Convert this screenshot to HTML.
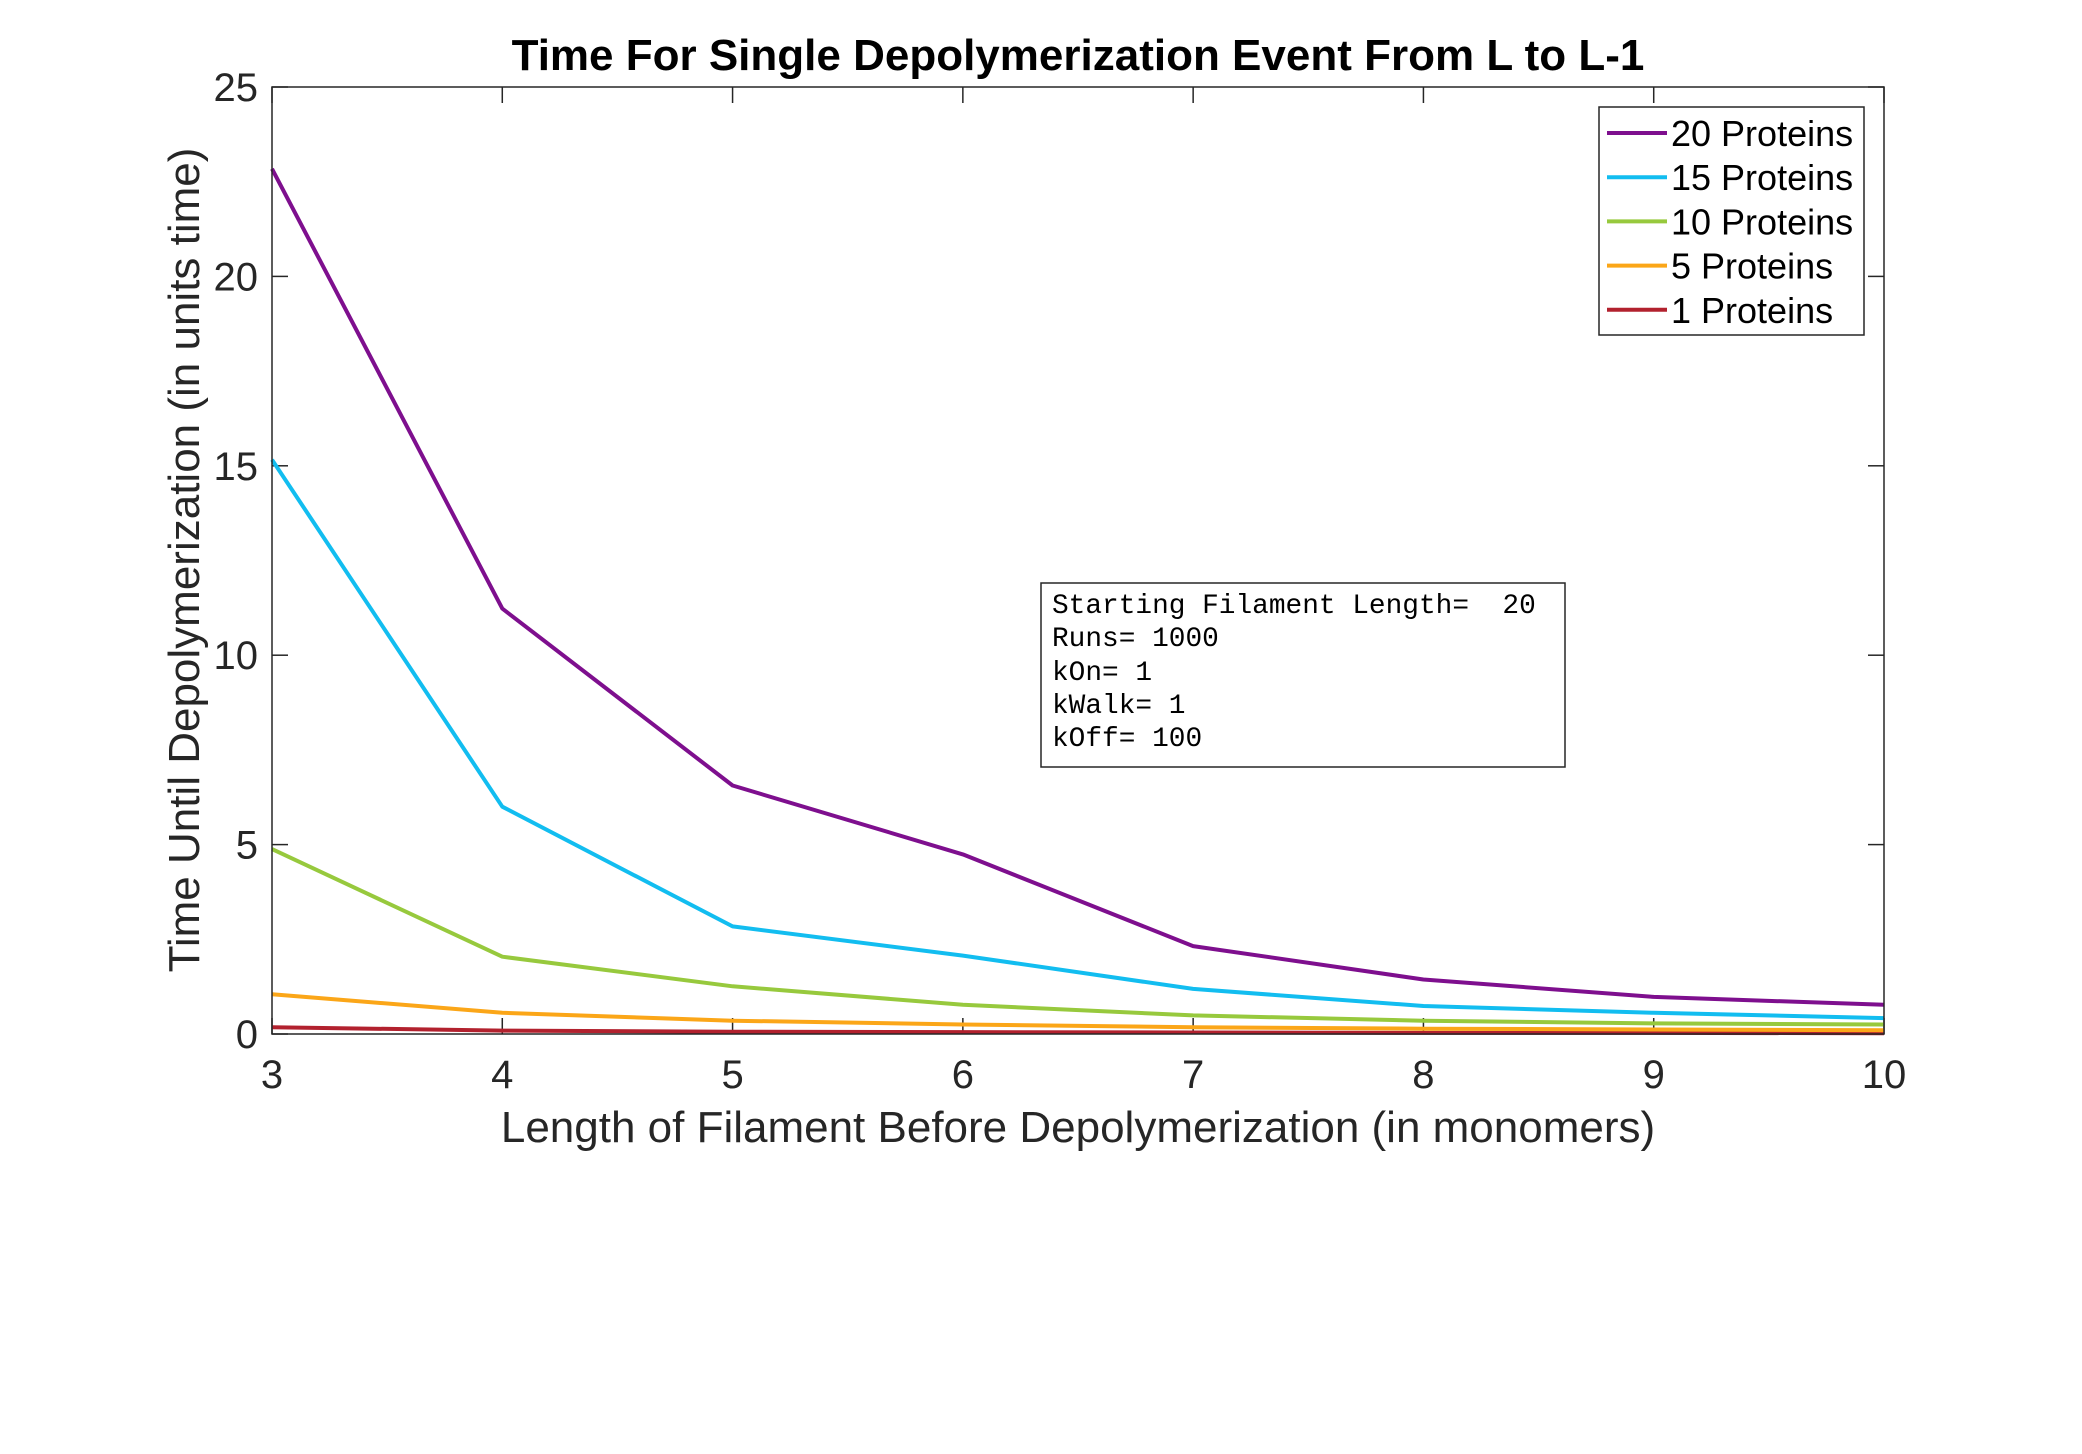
<!DOCTYPE html>
<html><head><meta charset="utf-8"><style>
html,body{margin:0;padding:0;background:#fff;}
svg{display:block;font-family:"Liberation Sans",Arial,sans-serif;}
</style></head><body>
<svg id="chart" width="2082" height="1454" viewBox="0 0 2082 1454" xmlns="http://www.w3.org/2000/svg">
<rect x="0" y="0" width="2082" height="1454" fill="#fff"/>
<text x="1078" y="70" text-anchor="middle" font-size="44" font-weight="bold" fill="#000">Time For Single Depolymerization Event From L to L-1</text>
<g id="grid"></g>
<g id="series"></g>
<rect x="272" y="87" width="1612" height="947" fill="none" stroke="#262626" stroke-width="1.5"/>
<text x="1078" y="1142" text-anchor="middle" font-size="44" fill="#262626">Length of Filament Before Depolymerization (in monomers)</text>
<text x="0" y="0" transform="translate(199,560) rotate(-90)" text-anchor="middle" font-size="44" fill="#262626">Time Until Depolymerization (in units time)</text>
<g>
<rect x="1599" y="107" width="265" height="228" fill="#fff" stroke="#262626" stroke-width="1.5"/>
<g id="legend-items"></g>
</g>
<g>
<rect x="1041" y="583" width="524" height="184" fill="#fff" stroke="#262626" stroke-width="1.5"/>
<g font-family="'Liberation Mono',monospace" font-size="27.8" fill="#000">
<text x="1052" y="613" xml:space="preserve">Starting Filament Length=  20</text>
<text x="1052" y="646">Runs= 1000</text>
<text x="1052" y="680">kOn= 1</text>
<text x="1052" y="713">kWalk= 1</text>
<text x="1052" y="746">kOff= 100</text>
</g>
</g>
</svg>
<script>
const xValues = [3,4,5,6,7,8,9,10];
const p20 = [22.84,11.23,6.56,4.74,2.32,1.44,0.98,0.77];
const p15 = [15.16,6.0,2.84,2.07,1.19,0.74,0.56,0.42];
const p10 = [4.88,2.04,1.26,0.77,0.49,0.35,0.28,0.25];
const p5 = [1.05,0.56,0.35,0.25,0.18,0.14,0.12,0.10];
const p1 = [0.18,0.09,0.06,0.05,0.04,0.03,0.03,0.02];
const seriesLabels = ["20 Proteins","15 Proteins","10 Proteins","5 Proteins","1 Proteins"];
const xTicks = [3,4,5,6,7,8,9,10];
const yTicks = [0,5,10,15,20,25];

const NS="http://www.w3.org/2000/svg";
const L=272,R=1884,T=87,B=1034;
const xMin=3,xMax=10,yMin=0,yMax=25;
function sx(v){return L+(v-xMin)/(xMax-xMin)*(R-L);}
function sy(v){return B-(v-yMin)/(yMax-yMin)*(B-T);}
function mk(tag,attrs,parent){const e=document.createElementNS(NS,tag);for(const k in attrs)e.setAttribute(k,attrs[k]);parent.appendChild(e);return e;}

const grid=document.getElementById('grid');
xTicks.forEach(t=>{
  const x=sx(t);
  let l=mk('line',{x1:x,x2:x,y1:B,y2:B-16,stroke:'#262626','stroke-width':1.5},grid);
  
  
  let l2=mk('line',{x1:x,x2:x,y1:T,y2:T+16,stroke:'#262626','stroke-width':1.5},grid);
  
  
  let tx=mk('text',{x:x,y:1088,'text-anchor':'middle','font-size':40,fill:'#262626'},grid);
  tx.textContent=t;
  
  
});
yTicks.forEach(t=>{
  const y=sy(t);
  let l=mk('line',{x1:L,x2:L+16,y1:y,y2:y,stroke:'#262626','stroke-width':1.5},grid);
  
  
  let l2=mk('line',{x1:R,x2:R-16,y1:y,y2:y,stroke:'#262626','stroke-width':1.5},grid);
  
  
  let tx=mk('text',{x:258,y:y+14,'text-anchor':'end','font-size':40,fill:'#262626'},grid);
  tx.textContent=t;
  
  
});

const allSeries=[p20,p15,p10,p5,p1];
const colors=['#7E0F8E','#12BDF0','#97C93D','#FBA618','#B2212E'];
const names=['series-20-proteins','series-15-proteins','series-10-proteins','series-5-proteins','series-1-proteins'];
const sg=document.getElementById('series');
for(let i=allSeries.length-1;i>=0;i--){
  const pts=allSeries[i].map((v,j)=>sx(xValues[j]).toFixed(1)+','+sy(v).toFixed(1)).join(' ');
  let pl=mk('polyline',{points:pts,fill:'none',stroke:colors[i],'stroke-width':4,'stroke-linejoin':'round'},sg);
  
  
}
const lg=document.getElementById('legend-items');
seriesLabels.forEach((s,i)=>{
  const y=133+i*44.2;
  let l=mk('line',{x1:1607,x2:1667,y1:y,y2:y,stroke:colors[i],'stroke-width':4},lg);
  
  
  let tx=mk('text',{x:1671,y:y+13,'font-size':36,fill:'#000'},lg);
  tx.textContent=s;
  
  
});
</script>
</body></html>
